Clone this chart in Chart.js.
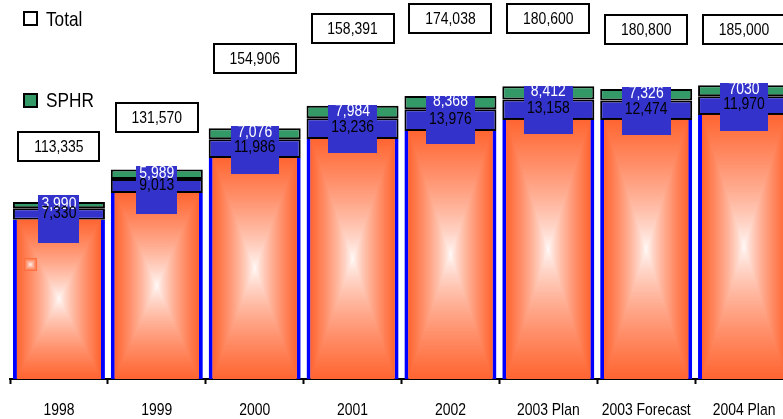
<!DOCTYPE html>
<html>
<head>
<meta charset="utf-8">
<script src="https://cdn.jsdelivr.net/npm/chart.js@4.4.1/dist/chart.umd.min.js"></script>
<style>
html, body { margin: 0; padding: 0; background: #fff; overflow: hidden; width: 783px; height: 419px; }
#wrap { position: absolute; left: 0; top: 0; width: 800px; height: 419px; }
</style>
</head>
<body>
<div id="wrap"><canvas id="chart" width="800" height="419"></canvas></div>
<script>
var categories = ['1998', '1999', '2000', '2001', '2002', '2003 Plan', '2003 Forecast', '2004 Plan'];
var baseValues = [102000, 119000, 141400, 153600, 158700, 165800, 165800, 169000];
var otherValues = [7330, 9013, 11986, 13236, 13976, 13158, 12474, 11970];
var sphrValues = [3990, 5989, 7076, 7984, 8368, 8412, 7326, 7030];
var sphrLabels = ['3,990', '5,989', '7,076', '7,984', '8,368', '8,412', '7,326', '7030'];
var totals = [113335, 131570, 154906, 158391, 174038, 180600, 180800, 185000];

// the total boxes float at their own heights in the original (centre y, px)
var totalBoxY = [146, 117, 58, 28, 18, 18, 29, 29];

// no narrow face installed, so text is squeezed by hand
var FONT = "'Liberation Sans', Arial, sans-serif";
var SQUEEZE = 0.82;
var ORANGE = [255, 102, 51];

function narrowText(ctx, text, x, y, size, color, align) {
    ctx.save();
    ctx.font = size + 'px ' + FONT;
    ctx.textAlign = align || 'center';
    ctx.textBaseline = 'middle';
    ctx.fillStyle = color;
    ctx.translate(x, y);
    ctx.scale(SQUEEZE, 1);
    ctx.fillText(text, 0, 0);
    ctx.restore();
}

function narrowWidth(ctx, text, size) {
    ctx.save();
    ctx.font = size + 'px ' + FONT;
    var w = ctx.measureText(text).width * SQUEEZE;
    ctx.restore();
    return w;
}

function fillRectGradient(ctx, x0, y0, x1, y1) {
    var cx = (x0 + x1) / 2, cy = (y0 + y1) / 2;
    var hw = (x1 - x0) / 2, hh = (y1 - y0) / 2;
    var steps = 60;
    for (var i = 0; i < steps; i++) {
        var s = 1 - i / steps;
        var t = Math.pow(s, 0.75);
        var r = Math.round(255 + (ORANGE[0] - 255) * t);
        var g = Math.round(255 + (ORANGE[1] - 255) * t);
        var b = Math.round(255 + (ORANGE[2] - 255) * t);
        ctx.fillStyle = 'rgb(' + r + ',' + g + ',' + b + ')';
        ctx.fillRect(cx - hw * s, cy - hh * s, hw * s * 2, hh * s * 2);
    }
}

var gradientBars = {
    id: 'gradientBars',
    afterDatasetDraw: function (chart, args) {
        if (args.index !== 0) return;
        var ctx = chart.ctx;
        ctx.save();
        args.meta.data.forEach(function (bar) {
            var p = bar.getProps(['x', 'y', 'base', 'width'], true);
            fillRectGradient(ctx, p.x - p.width / 2 + 4, p.y, p.x + p.width / 2 - 4, p.base - 1);
        });
        ctx.restore();
    }
};

var legendAndLabels = {
    id: 'legendAndLabels',
    beforeDatasetsDraw: function (chart) {
        var ctx = chart.ctx;
        ctx.save();
        ctx.lineWidth = 2;
        ctx.strokeStyle = '#000';
        ctx.fillStyle = '#fff';
        ctx.fillRect(24, 12, 13, 13);
        ctx.strokeRect(24, 12, 13, 13);
        ctx.fillStyle = '#339966';
        ctx.fillRect(24, 94, 13, 13);
        ctx.strokeRect(24, 94, 13, 13);
        ctx.restore();
        narrowText(ctx, 'Total', 46, 20, 21, '#000', 'left');
        narrowText(ctx, 'SPHR', 46, 101, 21, '#000', 'left');
    },
    afterDatasetsDraw: function (chart) {
        var ctx = chart.ctx;
        var other = chart.getDatasetMeta(1).data;
        var sphr = chart.getDatasetMeta(2).data;

        // orange legend marker (its text sits behind the first bar)
        fillRectGradient(ctx, 24, 258, 37, 271);

        for (var i = 0; i < categories.length; i++) {
            var b = other[i].getProps(['x', 'y', 'base'], true);
            var g = sphr[i].getProps(['x', 'y', 'base'], true);
            var topText = sphrLabels[i];
            var midText = otherValues[i].toLocaleString('en-US');
            var w = Math.max(narrowWidth(ctx, topText, 17), narrowWidth(ctx, midText, 17)) + 6;
            ctx.fillStyle = '#3333CC';
            ctx.fillRect(Math.round(b.x - w / 2), Math.round(b.y - 13), Math.round(w), 48);
            narrowText(ctx, topText, b.x, (g.y + g.base) / 2 - 1, 17, '#fff');
            narrowText(ctx, midText, b.x, (b.y + b.base) / 2 - 1, 17, '#000');

            // total box
            var txt = totals[i].toLocaleString('en-US');
            var tw = Math.round(narrowWidth(ctx, txt, 17) + 32);
            var bx = Math.round(b.x - tw / 2), by = totalBoxY[i] - 14;
            ctx.save();
            ctx.fillStyle = '#fff';
            ctx.fillRect(bx, by, tw, 29);
            ctx.lineWidth = 2;
            ctx.strokeStyle = '#000';
            ctx.strokeRect(bx, by, tw, 29);
            ctx.restore();
            narrowText(ctx, txt, b.x, totalBoxY[i] + 1, 17, '#000');
        }
    },
    afterDraw: function (chart) {
        // category labels, squeezed like the rest of the text
        var xs = chart.scales.x;
        xs.ticks.forEach(function (t, i) {
            narrowText(chart.ctx, xs.getLabelForValue(t.value), xs.getPixelForTick(i), 410, 17, '#000');
        });
    }
};

new Chart(document.getElementById('chart').getContext('2d'), {
    type: 'bar',
    data: {
        labels: categories,
        datasets: [{
            label: 'Base',
            data: baseValues,
            backgroundColor: '#FF6633',
            borderColor: '#0000FF',
            borderWidth: { left: 4, right: 4, top: 0, bottom: 0 },
            borderSkipped: false,
            barPercentage: 0.94,
            categoryPercentage: 1.0
        }, {
            label: 'Other',
            data: otherValues,
            backgroundColor: '#3333CC',
            borderColor: '#000',
            borderWidth: 2,
            borderSkipped: false,
            barPercentage: 0.94,
            categoryPercentage: 1.0
        }, {
            label: 'SPHR',
            data: sphrValues,
            backgroundColor: '#339966',
            borderColor: '#000',
            borderWidth: 2,
            borderSkipped: false,
            barPercentage: 0.94,
            categoryPercentage: 1.0
        }]
    },
    options: {
        responsive: false,
        animation: false,
        events: [],
        layout: { padding: { left: 10, right: 7, top: 0, bottom: 0 } },
        plugins: { legend: { display: false }, tooltip: { enabled: false } },
        scales: {
            x: {
                stacked: true,
                grid: { display: true, drawOnChartArea: false, drawTicks: true, tickLength: 5, tickWidth: 2, tickColor: '#000', offset: true },
                border: { display: true, color: '#000', width: 2 },
                ticks: { display: false, autoSkip: false },
                afterFit: function (scale) { scale.height = 40; }
            },
            y: {
                stacked: true,
                display: false,
                min: 0,
                max: 242560
            }
        }
    },
    plugins: [gradientBars, legendAndLabels]
});
</script>
</body>
</html>
